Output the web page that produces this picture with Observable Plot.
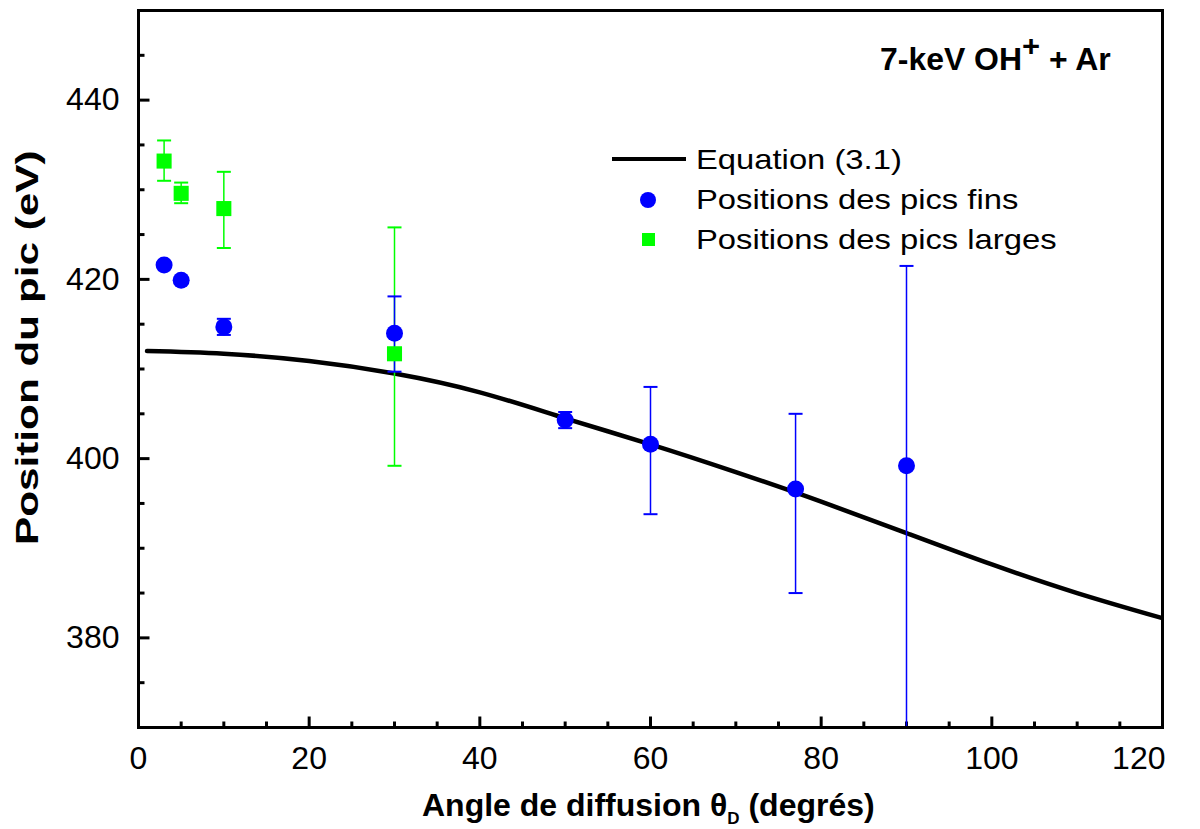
<!DOCTYPE html>
<html><head><meta charset="utf-8">
<script src="https://cdn.jsdelivr.net/npm/d3@7"></script>
<script src="https://cdn.jsdelivr.net/npm/@observablehq/plot@0.6"></script>
<style>
body{margin:0;background:#fff;}
#wrap{position:relative;width:1200px;height:829px;font-family:"Liberation Sans",Arial,sans-serif;color:#000;}
#wrap svg{position:absolute;left:0;top:0;}
.ov{position:absolute;white-space:nowrap;transform-origin:0 0;}
</style></head><body><div id="wrap"></div>
<script>
// Data
const fineAngles = [3, 5, 10, 30, 50, 60, 77, 90];
const finePos    = [421.6, 419.9, 414.7, 414.0, 404.3, 401.6, 396.6, 399.2];
const fineLow    = [421.6, 419.9, 413.8, 409.7, 403.4, 393.8, 385.0, 365.0];
const fineHigh   = [421.6, 419.9, 415.6, 418.1, 405.2, 408.0, 405.0, 421.5];
const largeAngles = [3, 5, 10, 30];
const largePos    = [433.2, 429.6, 427.9, 411.7];
const largeLow    = [431.0, 428.5, 423.5, 399.2];
const largeHigh   = [435.5, 430.8, 432.0, 425.8];
const eqAngles = [1, 10, 20, 30, 40, 50, 60, 70, 80, 90, 100, 110, 120];
const eqPos    = [412.0, 411.7, 410.9, 409.5, 407.4, 404.5, 401.6, 398.5, 395.2, 391.7, 388.2, 385.0, 382.2];
const xDomain = [0, 120];
const yDomain = [370, 450];
const xMajor = [0, 20, 40, 60, 80, 100, 120];
const yMajor = [380, 400, 420, 440];
const xMinor = d3.range(0, 121, 5);
const yMinor = d3.range(370, 451, 5);
const blue = "#0000ff", green = "#00ff00";

const fine = fineAngles.map((a, i) => ({a, p: finePos[i], lo: fineLow[i], hi: fineHigh[i]}));
const large = largeAngles.map((a, i) => ({a, p: largePos[i], lo: largeLow[i], hi: largeHigh[i]}));
const eq = eqAngles.map((a, i) => ({a, p: eqPos[i]}));
const fineErr = fine.filter(d => d.hi > d.lo);

// symbols
const cap = {draw(ctx) { ctx.moveTo(-7, 0); ctx.lineTo(7, 0); }};
const vTick = len => ({draw(ctx) { ctx.moveTo(0, 1); ctx.lineTo(0, -len); }});
const hTick = len => ({draw(ctx) { ctx.moveTo(-1, 0); ctx.lineTo(len, 0); }});
const xMinorOnly = xMinor.filter(v => !xMajor.includes(v));
const yMinorOnly = yMinor.filter(v => !yMajor.includes(v));

const chart = Plot.plot({
  width: 1200, height: 829,
  marginLeft: 138, marginRight: 38, marginTop: 10, marginBottom: 102,
  style: {fontFamily: '"Liberation Sans", Arial, sans-serif', fontSize: "32px", background: "white", color: "black"},
  x: {domain: xDomain},
  y: {domain: yDomain},
  marks: [
    Plot.axisX({ticks: xMajor.slice(0, -1), tickSize: 0, tickPadding: 19, label: null, fontSize: 32}),
    Plot.axisX({ticks: xMajor.slice(-1), tickSize: 0, tickPadding: 19, label: null, fontSize: 32, textAnchor: "end", dx: 3}),
    Plot.axisY({ticks: yMajor, tickSize: 0, tickPadding: 19, fontSize: 32, label: null}),
    // inward ticks
    Plot.dot(xMinorOnly, {x: d => d, y: () => yDomain[0], symbol: vTick(6), stroke: "black", strokeWidth: 3, clip: false}),
    Plot.dot(xMajor, {x: d => d, y: () => yDomain[0], symbol: vTick(11), stroke: "black", strokeWidth: 3}),
    Plot.dot(yMinorOnly, {x: () => xDomain[0], y: d => d, symbol: hTick(6), stroke: "black", strokeWidth: 3}),
    Plot.dot(yMajor, {x: () => xDomain[0], y: d => d, symbol: hTick(11), stroke: "black", strokeWidth: 3}),
    Plot.line(eq, {x: "a", y: "p", stroke: "black", strokeWidth: 4.5, curve: "natural", clip: "frame"}),
    Plot.ruleX(large, {x: "a", y1: "lo", y2: "hi", stroke: green, strokeWidth: 1.5, clip: "frame"}),
    Plot.dot(large, {x: "a", y: "lo", symbol: cap, r: 7, stroke: green, strokeWidth: 2, fill: "none"}),
    Plot.dot(large, {x: "a", y: "hi", symbol: cap, r: 7, stroke: green, strokeWidth: 2, fill: "none"}),
    Plot.ruleX(fineErr, {x: "a", y1: "lo", y2: "hi", stroke: blue, strokeWidth: 1.5, clip: "frame"}),
    Plot.dot(fineErr, {x: "a", y: "lo", symbol: cap, r: 7, stroke: blue, strokeWidth: 2, fill: "none", clip: "frame"}),
    Plot.dot(fineErr, {x: "a", y: "hi", symbol: cap, r: 7, stroke: blue, strokeWidth: 2, fill: "none", clip: "frame"}),
    Plot.dot(large, {x: "a", y: "p", symbol: "square", r: 8.5, fill: green, stroke: "none"}),
    Plot.dot(fine, {x: "a", y: "p", symbol: "circle", r: 8.5, fill: blue, stroke: "none"}),
    Plot.frame({stroke: "black", strokeWidth: 3})
  ]
});
const wrap = document.getElementById("wrap");
wrap.appendChild(chart);

function ov(html, style) {
  const d = document.createElement("div");
  d.className = "ov";
  d.innerHTML = html;
  Object.assign(d.style, style);
  wrap.appendChild(d);
  return d;
}
// title
ov('7-keV OH<span style="font-size:30px;position:relative;top:-14px">+</span> + Ar',
   {left: "880px", top: "44px", fontSize: "31px", fontWeight: "bold", lineHeight: "32px", transform: "scaleX(1.03)"});
// x label
ov('Angle de diffusion &theta;<span style="font-size:17px;position:relative;top:8px">D</span> (degrés)',
   {left: "422px", top: "789px", fontSize: "32px", fontWeight: "bold", lineHeight: "32px"});
// y label (rotated)
const yl = ov('Position du pic (eV)', {left: "0px", top: "0px", fontSize: "32px", fontWeight: "bold", lineHeight: "32px"});
{
  const w = yl.offsetWidth, sx = 395 / w;
  yl.style.transform = `translate(11px, 545px) rotate(-90deg) scale(${sx}, 1)`;
}
// legend
ov('', {left: "612px", top: "157px", width: "74px", height: "4px", background: "black"});
ov('Equation (3.1)', {left: "696px", top: "143px", fontSize: "28px", lineHeight: "34px", transform: "scaleX(1.17)"});
ov('', {left: "640px", top: "192px", width: "16px", height: "16px", borderRadius: "50%", background: blue});
ov('Positions des pics fins', {left: "696px", top: "183px", fontSize: "28px", lineHeight: "34px", transform: "scaleX(1.17)"});
ov('', {left: "642px", top: "233px", width: "13px", height: "13px", background: green});
ov('Positions des pics larges', {left: "696px", top: "223px", fontSize: "28px", lineHeight: "34px", transform: "scaleX(1.17)"});
</script></body></html>
